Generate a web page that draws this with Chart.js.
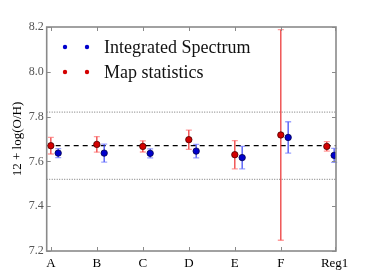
<!DOCTYPE html>
<html>
<head>
<meta charset="utf-8">
<script src="https://cdn.jsdelivr.net/npm/chart.js@4"></script>
<style>
  html, body { margin: 0; padding: 0; background: #fff; }
  #wrap { width: 374px; height: 280px; }
</style>
</head>
<body>
<div id="wrap"><canvas id="oh" width="374" height="280"></canvas></div>
<script>
// --- data ---
const categories = ['A', 'B', 'C', 'D', 'E', 'F', 'Reg1'];
const tickPos = [0, 1, 2, 3, 4, 5, 6.17];
const yTicks = [7.2, 7.4, 7.6, 7.8, 8.0, 8.2];

const mapValues = [7.670, 7.676, 7.667, 7.697, 7.630, 7.718, 7.667];
const mapErrors = [0.037, 0.035, 0.025, 0.043, 0.063, 0.470, 0.021];

const specValues = [7.637, 7.637, 7.636, 7.646, 7.617, 7.707, 7.627];
const specErrors = [0.020, 0.040, 0.020, 0.030, 0.050, 0.070, 0.031];

const meanLine = [7.67];
const bandLines = [7.52, 7.82];

const SPEC_SHIFT = 0.16;
const X_MIN = -0.09, X_MAX = 6.2;

const serif = '"Liberation Serif", "DejaVu Serif", serif';

function pts(vals, shift) {
    return vals.map((v, i) => ({ x: i + shift, y: v }));
}
function hline(v) {
    return [{ x: X_MIN, y: v }, { x: X_MAX, y: v }];
}

// error bars, drawn just under the points of each series
const errBars = {
    id: 'errBars',
    beforeDatasetDraw(chart, args) {
        const ds = chart.data.datasets[args.index];
        if (!ds.errors) return;
        const ctx = chart.ctx, xs = chart.scales.x, ys = chart.scales.y;
        ctx.save();
        ds.data.forEach((p, i) => {
            const px = xs.getPixelForValue(p.x);
            const top = ys.getPixelForValue(p.y + ds.errors[i]);
            const bot = ys.getPixelForValue(p.y - ds.errors[i]);
            ctx.strokeStyle = ds.barColor;
            ctx.lineWidth = 1.3;
            ctx.beginPath();
            ctx.moveTo(px, top); ctx.lineTo(px, bot);
            ctx.stroke();
            ctx.strokeStyle = ds.capColor;
            ctx.beginPath();
            ctx.moveTo(px - 3, top); ctx.lineTo(px + 3, top);
            ctx.moveTo(px - 3, bot); ctx.lineTo(px + 3, bot);
            ctx.stroke();
        });
        ctx.restore();
    }
};

// box + inward ticks + legend
const frame = {
    id: 'frame',
    afterDraw(chart) {
        const ctx = chart.ctx, a = chart.chartArea;
        const xs = chart.scales.x, ys = chart.scales.y;
        ctx.save();
        ctx.strokeStyle = '#8a8a8a';
        ctx.lineWidth = 1;
        ctx.beginPath();
        tickPos.forEach(v => {
            const px = Math.round(xs.getPixelForValue(v)) + 0.5;
            ctx.moveTo(px, a.bottom); ctx.lineTo(px, a.bottom - 4);
            ctx.moveTo(px, a.top); ctx.lineTo(px, a.top + 4);
        });
        yTicks.forEach(v => {
            const py = Math.round(ys.getPixelForValue(v)) + 0.5;
            ctx.moveTo(a.left, py); ctx.lineTo(a.left + 4, py);
            ctx.moveTo(a.right, py); ctx.lineTo(a.right - 4, py);
        });
        ctx.stroke();
        ctx.lineWidth = 1.6;
        ctx.strokeRect(a.left, a.top, a.right - a.left, a.bottom - a.top);

        // legend
        const rows = [chart.data.datasets[1], chart.data.datasets[0]];
        rows.forEach((ds, r) => {
            const y = 47 + r * 25;
            [65, 87].forEach(x => {
                ctx.fillStyle = ds.pointBackgroundColor;
                ctx.beginPath();
                ctx.arc(x, y, 2.2, 0, Math.PI * 2);
                ctx.fill();
            });
            ctx.fillStyle = '#111';
            ctx.font = '18px ' + serif;
            ctx.textBaseline = 'middle';
            ctx.fillText(ds.label, 104, y + 1);
        });
        ctx.restore();
    }
};

new Chart(document.getElementById('oh'), {
    type: 'scatter',
    data: {
        datasets: [
            {
                label: 'Map statistics',
                data: pts(mapValues, 0),
                errors: mapErrors,
                barColor: 'rgba(235,40,40,0.9)',
                capColor: 'rgba(255,90,90,0.6)',
                pointBackgroundColor: '#d40000',
                pointBorderColor: '#4a0000',
                pointBorderWidth: 0.8,
                pointRadius: 3.2,
                order: 1
            },
            {
                label: 'Integrated Spectrum',
                data: pts(specValues, SPEC_SHIFT),
                errors: specErrors,
                barColor: 'rgba(50,60,245,0.9)',
                capColor: 'rgba(90,100,255,0.6)',
                pointBackgroundColor: '#0000cc',
                pointBorderColor: '#00004a',
                pointBorderWidth: 0.8,
                pointRadius: 3.2,
                order: 1
            },
            {
                type: 'line',
                data: hline(meanLine[0]),
                borderColor: '#000',
                borderWidth: 1.2,
                borderDash: [5, 4],
                pointRadius: 0,
                order: 2
            },
            ...bandLines.map(v => ({
                type: 'line',
                data: hline(v),
                borderColor: '#8f8f8f',
                borderWidth: 1.2,
                borderDash: [1, 1.5],
                pointRadius: 0,
                order: 2
            }))
        ]
    },
    options: {
        responsive: false,
        animation: false,
        layout: { padding: { top: 27, right: 38, left: 0, bottom: 0 } },
        plugins: {
            legend: { display: false },
            tooltip: { enabled: false }
        },
        scales: {
            x: {
                type: 'linear',
                min: X_MIN,
                max: X_MAX,
                grid: { display: false, drawTicks: false },
                border: { display: false },
                afterBuildTicks: s => { s.ticks = tickPos.map(v => ({ value: v })); },
                afterFit: s => { s.height = 29; },
                ticks: {
                    autoSkip: false,
                    maxRotation: 0,
                    padding: 5,
                    color: '#000',
                    font: { family: serif, size: 13 },
                    callback: (v, i) => categories[i]
                }
            },
            y: {
                min: 7.2,
                max: 8.2,
                grid: { display: false, drawTicks: false },
                border: { display: false },
                afterBuildTicks: s => { s.ticks = yTicks.map(v => ({ value: v })); },
                afterFit: s => { s.width = 46.7; },
                ticks: {
                    padding: 3,
                    color: '#555',
                    font: { family: serif, size: 12 },
                    callback: v => v.toFixed(1)
                },
                title: {
                    display: true,
                    text: '12 + log(O/H)',
                    color: '#000',
                    font: { family: serif, size: 13 },
                    padding: { top: 10, bottom: 0 }
                }
            }
        }
    },
    plugins: [errBars, frame]
});
</script>
</body>
</html>
